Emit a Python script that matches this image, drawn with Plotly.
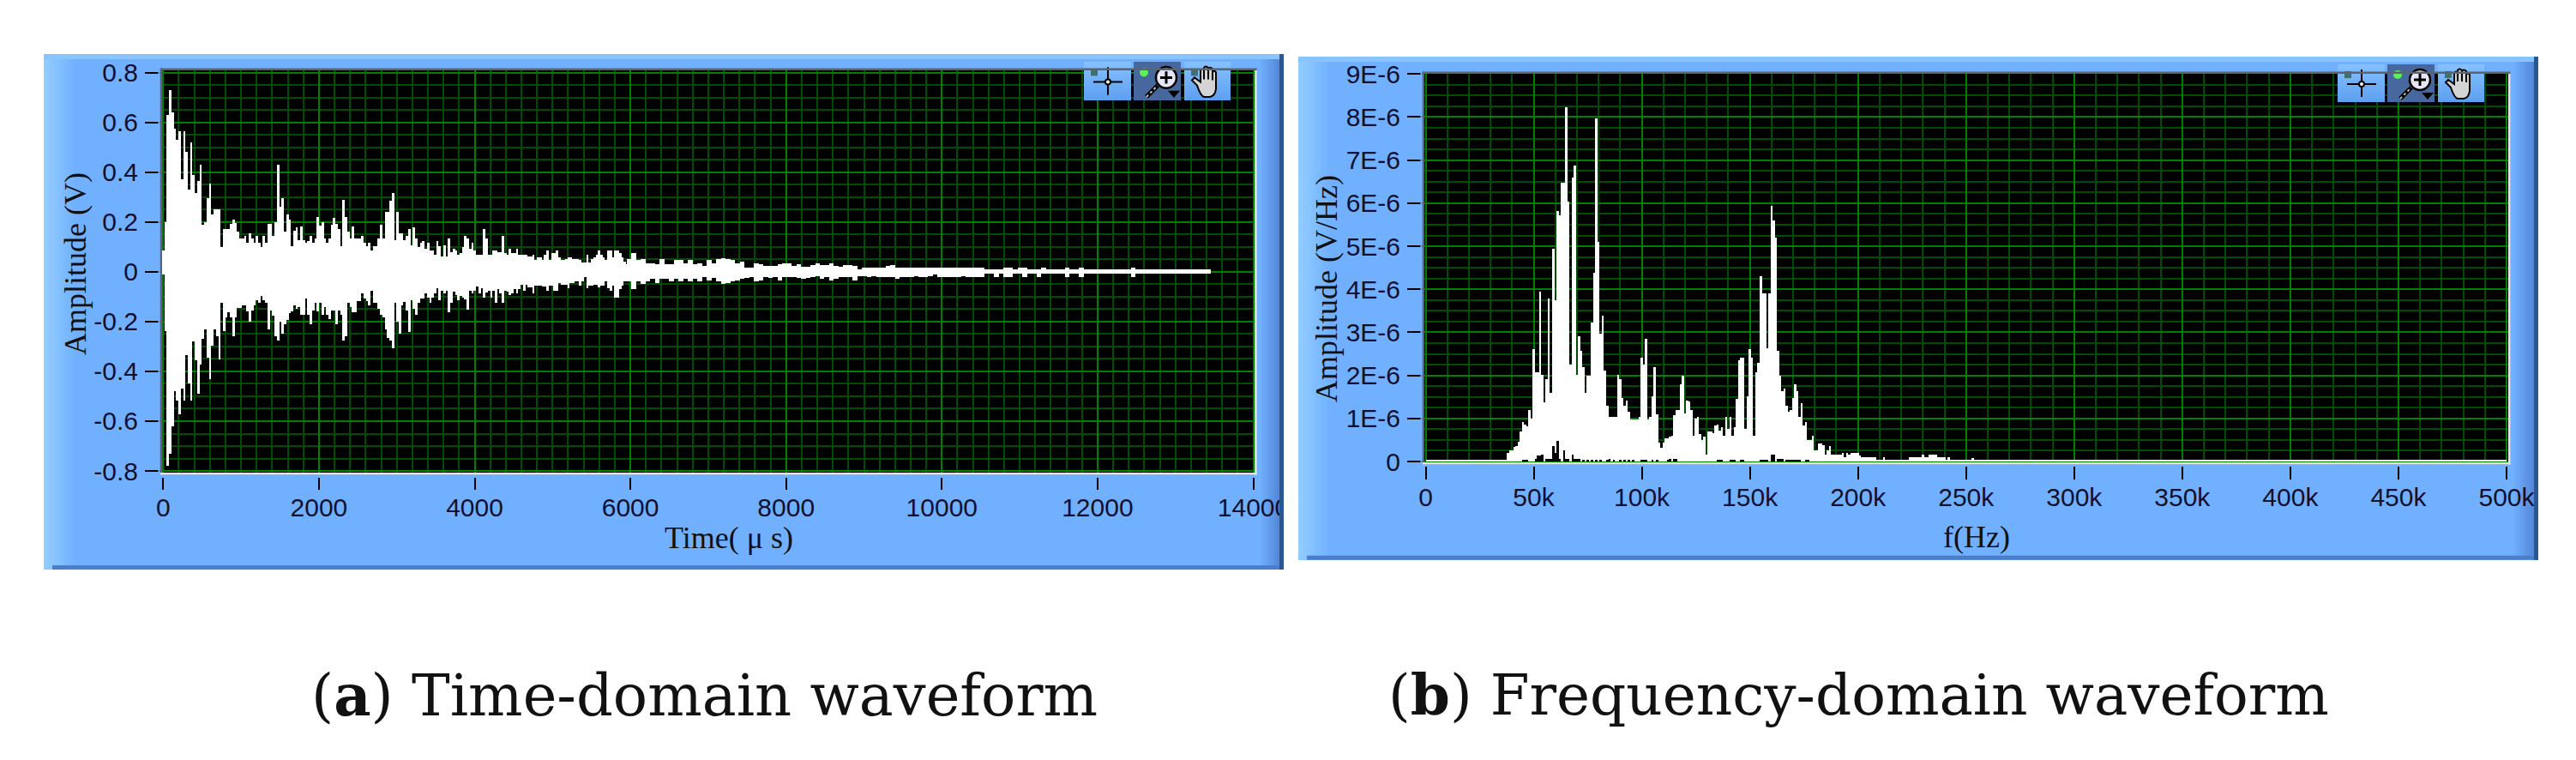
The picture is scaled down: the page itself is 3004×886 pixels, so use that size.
import base64
import numpy as np
import plotly.graph_objects as go

W, H = 3004, 886

# ---------- (a) time-domain envelope, volts ----------
upper_head = [.087,.20,.63,.73,.64,.575,.53,.565,.37,.565,
 .48,.33,.52,.39,.315,.365,.43,.19,.20,.297,
 .354,.23,.25,.25,.25,.098,.173,.173,.173,.193,
 .21,.196,.16,.135,.135,.144,.115,.153,.133,.115,
 .144,.115,.098,.144,.115,.193,.193,.144,.20,.43,
 .26,.297,.16,.23,.21,.104,.163,.18,.127,.182,
 .127,.115,.125,.144,.115,.133,.22,.184,.20,.133,
 .115,.133,.19,.218,.193,.173,.104,.287,.22,.16,
 .133,.182,.133,.133,.133,.144,.115,.104,.115,.087,.104]
lower_head = [-.01,-.24,-.78,-.73,-.62,-.48,-.516,-.573,-.47,-.516,
 -.336,-.45,-.516,-.28,-.355,-.49,-.373,-.27,-.23,-.344,
 -.43,-.298,-.23,-.258,-.353,-.126,-.238,-.183,-.164,-.183,
 -.258,-.183,-.145,-.145,-.135,-.135,-.16,-.2,-.155,-.135,
 -.114,-.123,-.097,-.114,-.126,-.23,-.155,-.177,-.258,-.277,
 -.2,-.25,-.212,-.192,-.166,-.158,-.135,-.149,-.143,-.172,
 -.172,-.106,-.172,-.21,-.155,-.126,-.16,-.126,-.172,-.143,
 -.172,-.191,-.155,-.155,-.212,-.155,-.172,-.277,-.258,-.126,
 -.143,-.162,-.162,-.117,-.117,-.088,-.106,-.117,-.134,-.077,-.126]
upper_mid = [.103,.135,.19,.135,.24,.24,.285,.316,.126,.24,
 .153,.153,.126,.143,.17,.105,.18,.132,.098,.115,
 .124,.092,.115,.086,.086,.069,.124,.103,.06,.105,
 .06,.132,.08,.094,.086,.067,.075,.098,.143,.135,
 .094,.115,.086,.067,.067,.067,.17,.132,.067,.067,
 .086,.086,.078,.078,.143,.075,.067,.094,.075,.075,
 .094,.067,.067,.067,.067,.063,.063,.067,.048,.057,
 .057,.048,.067,.086,.048,.075,.075,.086,.057,.048,
 .048,.052,.057,.057,.052,.052,.052,.046,.038,.038,
 .067,.038,.052,.057,.067,.084,.067,.057,.046,.084,
 .084,.057,.084,.084,.075,.057,.04,.032]
lower_mid = [-.124,-.149,-.172,-.184,-.23,-.266,-.275,-.308,-.126,-.2,
 -.25,-.134,-.12,-.155,-.241,-.115,-.149,-.172,-.126,-.109,
 -.109,-.086,-.103,-.124,-.103,-.086,-.065,-.115,-.078,-.086,
 -.078,-.161,-.126,-.08,-.094,-.115,-.098,-.103,-.112,-.153,
 -.078,-.086,-.078,-.06,-.086,-.065,-.103,-.083,-.077,-.103,
 -.077,-.123,-.069,-.086,-.124,-.075,-.08,-.094,-.086,-.069,
 -.086,-.069,-.052,-.075,-.052,-.063,-.063,-.086,-.055,-.055,
 -.055,-.06,-.06,-.077,-.057,-.057,-.077,-.077,-.044,-.052,
 -.052,-.052,-.067,-.046,-.046,-.037,-.037,-.057,-.037,-.02,
 -.067,-.057,-.057,-.052,-.052,-.063,-.057,-.057,-.04,-.067,
 -.075,-.057,-.103,-.103,-.069,-.057,-.037,-.037]
upper_tail = [.052,.075,.046,.052,.034,.034,.029,.052,.029,.029,.046,
 .046,.034,.046,.029,.034,.023,.046,.034,.052,.055,
 .052,.046,.034,.04,.017,.017,.034,.029,.025,.025,
 .023,.029,.034,.034,.023,.029,.021,.021,.026,.034,
 .026,.026,.034,.025,.021,.026,.026,.023,.009,.017,
 .017,.017,.017,.017,.023,.026,.017,.017,.017,.017,
 .017,.017,.017,.017,.017,.017,.017,.017,.017,.017,
 .017,.017,.017,.017,.017,.009,.009,.009,.009,.017,
 .017,.009,.017,.017,.009,.009,.009,.017,.009,.009,
 .009,.009,.017,.009,.009,.017,.009,.009,.009,.009,
 .009,.009,.009,.009,.009,.009,.017,.009,.009,.009,
 .009,.009,.009,.009,.009,.009,.009,.009,.009,.009,.009,.009,.009]
lower_tail = [-.04,-.069,-.04,-.048,-.04,-.029,-.046,-.029,-.029,-.038,-.029,
 -.038,-.029,-.038,-.029,-.038,-.023,-.034,-.026,-.04,-.048,
 -.046,-.04,-.034,-.029,-.025,-.023,-.038,-.034,-.02,-.025,
 -.02,-.034,-.021,-.023,-.021,-.026,-.029,-.026,-.023,-.017,
 -.029,-.023,-.034,-.029,-.021,-.021,-.023,-.034,-.017,-.017,
 -.021,-.017,-.021,-.021,-.021,-.023,-.029,-.02,-.02,-.02,
 -.017,-.02,-.02,-.017,-.011,-.021,-.021,-.021,-.021,-.021,
 -.017,-.021,-.021,-.021,-.02,-.009,-.009,-.02,-.009,-.02,
 -.02,-.009,-.009,-.02,-.009,-.009,-.02,-.009,-.009,-.009,
 -.009,-.009,-.02,-.009,-.009,-.02,-.009,-.009,-.009,-.009,
 -.009,-.009,-.009,-.009,-.009,-.009,-.02,-.009,-.009,-.009,
 -.009,-.009,-.009,-.009,-.009,-.009,-.009,-.009,-.009,-.009,-.009,-.009,-.009]
time_head = [30.1 * i for i in range(len(upper_head))]
time_mid = [2739 + 30.1 * i for i in range(len(upper_mid))]
time_tail = [5982.5 + 60.5 * i for i in range(len(upper_tail))]
width_a = [30.1] * (len(time_head) + len(time_mid)) + [60.5] * len(time_tail)

time_ticks = [0, 2000, 4000, 6000, 8000, 10000, 12000, 14000]
volt_ticks = [0.8, 0.6, 0.4, 0.2, 0, -0.2, -0.4, -0.6, -0.8]
volt_labels = ["0.8", "0.6", "0.4", "0.2", "0", "-0.2", "-0.4", "-0.6", "-0.8"]

# ---------- (b) spectrum: 1 kHz bins from 38 kHz, units of 1E-6 V/Hz ----------
freq_start = 38
spectrum = [.2,.25,.26,.33,.36,.46,.7,.91,.86,.81,
 1.19,.99,2.62,2.07,2.07,3.95,2.02,1.37,1.92,3.78,
 1.59,4.94,3.74,5.82,5.71,6.47,6.47,8.23,6.04,2.25,
 6.59,6.87,2.02,2.9,2.57,2.19,1.59,1.99,1.99,3.23,
 4.38,7.97,5.11,2.97,3.38,2.12,1.3,1.03,1.03,1.03,
 1.03,2.02,1.92,1.48,1.29,1.41,1.15,.97,.97,.97,
 .97,1.03,2.41,2.25,2.84,.97,1.03,1.52,2.19,1.09,
 .43,.31,.43,.53,.53,.57,.59,1.08,1.19,1.19,
 1.79,2.0,1.12,1.41,1.39,1.19,.6,.99,1.03,.64,
 .5,.57,.15,.69,.69,.66,.84,.86,.71,.79,
 .6,1.03,.76,1.03,.6,.79,1.46,2.35,2.41,2.41,
 .76,1.52,2.62,2.41,.6,2.07,2.29,4.31,3.9,3.9,
 2.63,3.9,5.93,5.6,5.21,2.57,1.99,1.64,1.69,1.29,
 1.15,1.19,1.47,1.79,1.64,1.03,1.36,.83,.91,.5,
 .5,.6,.26,.26,.42,.42,.38,.16,.26,.36,
 .15,.15,.15,.15,.15,.2,.1,.2,.15,.2,
 .2,.2,.2,.13,.1,.1,.1,.1,.1,.1,
 .1,.04,.04,.04,.1,.03,.03,.03,.03,.03,
 .03,.03,.03,.03,.03,.03,.1,.1,.1,.1,
 .1,.1,.15,.1,.1,.15,.15,.15,.15,.1,
 .1,.1,.1,.04,.1,.03,.03,.03,.03,.03,
 .03,.03,.03,.03,.03,.08]
freqs = [freq_start + i for i in range(len(spectrum))]

notch_freq = [45,46,47,51,52,53,54,56,57,58,59,60,61,62,64,65,66,68,69,70,71,73,75,77,79,81,84,85,87,90,92,94,96,
              100,101,102,105,107,112,113,115,116,135,136,137,141,142,143,146,147,155,156,157,158,160,161,163,164,165,
              167,168,169,170,171,172,173,176,177]
notch_height = [.03,.03,.03,.05,.13,.13,.15,.05,.05,.05,.36,.2,.47,.06,.26,.06,.06,.15,.05,.05,.05,.03,.04,.03,.03,.03,.03,.05,.03,.03,.03,.03,.03,
                .03,.03,.03,.03,.03,.04,.05,.06,.06,.03,.03,.03,.04,.04,.04,.04,.04,.04,.04,.04,.04,.15,.15,.06,.06,.06,
                .04,.04,.04,.04,.04,.04,.04,.04,.04]
floor_freq = [19, 376]
floor_width = [38, 248]
floor_level = [.04, .04]

freq_ticks = [0, 50, 100, 150, 200, 250, 300, 350, 400, 450, 500]
freq_labels = ["0", "50k", "100k", "150k", "200k", "250k", "300k", "350k", "400k", "450k", "500k"]
amp_ticks = [0, 1, 2, 3, 4, 5, 6, 7, 8, 9]
amp_labels = ["0", "1E-6", "2E-6", "3E-6", "4E-6", "5E-6", "6E-6", "7E-6", "8E-6", "9E-6"]

# ---------- styling ----------
MAJOR, MINOR = "#008000", "#004c00"
TICKTXT = "#101030"
PANEL = "#70b0ff"

def xp(v): return v / W
def yp(v): return 1 - v / H

def rect(x0, y0, x1, y1, color, layer="below"):
    return dict(type="rect", xref="paper", yref="paper", x0=xp(x0), x1=xp(x1), y0=yp(y0), y1=yp(y1),
                fillcolor=color, line=dict(width=0), layer=layer)

def mix(c1, c2, f):
    return "rgb(%d,%d,%d)" % tuple(round(a + (b - a) * f) for a, b in zip(c1, c2))

def panel(x0, y0, x1, y1, rx):
    out = [rect(x0, y0, x1, y1, PANEL)]
    n = 18
    for i in range(n):                       # light band on the left
        f = i / n
        out.append(rect(x0 + 2 * i, y0, x0 + 2 * i + 2, y1, mix((146, 205, 255), (112, 176, 255), f)))
    n = int((x1 - rx) / 3)
    for i in range(n):                       # darker band on the right
        f = i / n
        out.append(rect(rx + 3 * i, y0 + 3, rx + 3 * i + 3, y1 - 3, mix((112, 176, 255), (78, 125, 205), f)))
    out.append(rect(x0, y0, x1, y0 + 6, "#88c4ff"))
    out.append(rect(x0 + 10, y1 - 5, x1, y1, "#4a7ecb"))
    return out

def panel_edge(x0, y0, x1, y1):
    return [rect(x1 - 5, y0, x1, y1, "#2b5790", "above"),
            rect(x1, y0, x1 + 16, y1, "#ffffff", "above")]

A = dict(l=189, r=1463.3, t=82, b=553.7, x0=190.3, xs=.0908, y0=316.8, ys=290.3)
B = dict(l=1661, r=2925, t=86, b=541.7, x0=1662.5, xs=2.521, y0=538, ys=50.19)

shapes = panel(51, 63, 1497, 664, 1468) + panel(1514, 66, 2960, 652.7, 2929)
shapes += [rect(A["l"], A["t"], A["r"], A["b"], "#000000"), rect(B["l"], B["t"], B["r"], B["b"], "#000000")]
shapes += panel_edge(51, 63, 1497, 664) + panel_edge(1514, 66, 2960, 652.7)

for P, xgap in ((A, 3.3), (B, 2.4)):
    shapes += [
        rect(P["l"] - 2.5, P["t"] - 2.5, P["r"] + 2.4, P["t"], "#5c6470", "above"),
        rect(P["l"] - 2.5, P["t"] - 2.5, P["l"], P["b"], "#5c6470", "above"),
        rect(P["r"], P["t"], P["r"] + 2.4, P["b"], "#e4e4e4", "above"),
        rect(P["l"] - 2.5, P["b"] - 2.7, P["r"] + 2.4, P["b"], "#e4e4e4", "above"),
        rect(P["l"] - 2.5 - 2, P["t"] - 3, P["l"] - 2.5, P["b"] + 1, PANEL, "above"),
        rect(P["l"] - 5, P["b"], P["r"] + 6, P["b"] + xgap, PANEL, "above"),
    ]

fig = go.Figure()
fig.add_trace(go.Bar(
    x=time_head + time_mid + time_tail,
    base=lower_head + lower_mid + lower_tail,
    y=[u - l for u, l in zip(upper_head + upper_mid + upper_tail, lower_head + lower_mid + lower_tail)],
    width=width_a, marker=dict(color="#ffffff", line=dict(width=0)), xaxis="x", yaxis="y", showlegend=False))
fig.add_trace(go.Bar(x=freqs, y=spectrum, width=1.0, marker=dict(color="#ffffff", line=dict(width=0)),
                     xaxis="x2", yaxis="y2", showlegend=False))
fig.add_trace(go.Bar(x=floor_freq, y=floor_level, width=floor_width, marker=dict(color="#ffffff", line=dict(width=0)),
                     xaxis="x2", yaxis="y2", showlegend=False))
fig.add_trace(go.Bar(x=notch_freq, y=notch_height, width=1.0, marker=dict(color="#000000", line=dict(width=0)),
                     xaxis="x2", yaxis="y2", showlegend=False))

tickfont = dict(family="Liberation Sans", size=30, color=TICKTXT)
def xaxis(P, tv, tt, minor):
    return dict(domain=[xp(P["l"]), xp(P["r"])],
                range=[(P["l"] - P["x0"]) / P["xs"], (P["r"] - P["x0"]) / P["xs"]],
                tickmode="array", tickvals=tv, ticktext=tt, tickfont=tickfont, ticks="outside",
                ticklen=16, tickwidth=2, tickcolor="#000000", showgrid=True, gridcolor=MAJOR, gridwidth=2,
                minor=dict(dtick=minor, tick0=0, showgrid=True, gridcolor=MINOR, gridwidth=2, ticks=""),
                zeroline=False, showline=False, ticklabelstandoff=-5, automargin=False)
def yaxis(P, tv, tt, minor, anchor):
    return dict(domain=[yp(P["b"]), yp(P["t"])],
                range=[(P["y0"] - P["b"]) / P["ys"], (P["y0"] - P["t"]) / P["ys"]],
                anchor=anchor, tickmode="array", tickvals=tv, ticktext=tt, tickfont=tickfont, ticks="outside",
                ticklen=19, tickwidth=2, tickcolor="#000000", showgrid=True, gridcolor=MAJOR, gridwidth=2,
                minor=dict(dtick=minor, tick0=0, showgrid=True, gridcolor=MINOR, gridwidth=2, ticks=""),
                zeroline=False, showline=False, ticklabelstandoff=2, automargin=False)

def note(text, x, y, size, family="Liberation Serif", angle=0, color="#111111"):
    return dict(text=text, x=xp(x), y=yp(y), xref="paper", yref="paper", showarrow=False, textangle=angle,
                xanchor="center", yanchor="middle", font=dict(family=family, size=size, color=color))

annotations = [
    note("Amplitude (V)", 88, 308, 36, angle=-90),
    note("Amplitude (V/Hz)", 1547, 337, 36, angle=-90),
    note("Time( \u03bc s)", 850, 627, 36),
    note("f(Hz)", 2305, 626, 36),
    note("(<b>a</b>) Time-domain waveform", 821, 810, 67, family="DejaVu Serif", color="#111111"),
    note("(<b>b</b>) Frequency-domain waveform", 2167, 810, 66, family="DejaVu Serif", color="#111111"),
]

# ---------- graph palette toolbar, drawn as a small vector picture ----------
toolbar_svg = """<svg xmlns='http://www.w3.org/2000/svg' width='171' height='44' viewBox='0 0 171 44'>
<defs><linearGradient id='g' x1='0' y1='0' x2='0' y2='1'><stop offset='0' stop-color='#86c0ff'/><stop offset='1' stop-color='#5d9ff0'/></linearGradient></defs>
<rect x='0' y='0' width='55' height='44' fill='url(#g)'/>
<rect x='58' y='0' width='55' height='44' fill='#46689f'/>
<rect x='117' y='0' width='54' height='44' fill='url(#g)'/>
<rect x='8' y='8' width='8' height='8' fill='#3f6f6f'/>
<rect x='125' y='8' width='8' height='8' fill='#3f6f6f'/>
<circle cx='70' cy='12' r='5' fill='#5cf05c'/>
<path d='M28 6V38M11 23H45' stroke='#000' stroke-width='2' fill='none'/><circle cx='28' cy='23' r='3' fill='#fff' stroke='#000' stroke-width='2'/>
<path d='M73 40L86 27' stroke='#000' stroke-width='5'/><path d='M73 40L86 27' stroke='#bbb' stroke-width='2' stroke-dasharray='3 3'/>
<circle cx='96' cy='18' r='12' fill='#e6e6f6' stroke='#000' stroke-width='2.5'/>
<path d='M96 11V25M89 18H103' stroke='#000' stroke-width='3'/>
<path d='M98 33H112L105 41Z' fill='#000'/>
<path d='M132 27L126 21L129 18L136 23V10Q138 7 140 10V20V7Q142 4 145 7V20V8Q147 5 150 8V21V12Q152 9 154 12V31Q153 39 147 40H140Q136 39 132 27Z' fill='#d4d4d4' stroke='#000' stroke-width='2'/>
</svg>"""
toolbar_uri = "data:image/svg+xml;base64," + base64.b64encode(toolbar_svg.encode()).decode()
images = [
    dict(source=toolbar_uri, xref="paper", yref="paper", x=xp(1264), y=yp(72), sizex=171 / W, sizey=45 / H,
         xanchor="left", yanchor="top", sizing="stretch", layer="above"),
    dict(source=toolbar_uri, xref="paper", yref="paper", x=xp(2726), y=yp(75), sizex=171 / W, sizey=44 / H,
         xanchor="left", yanchor="top", sizing="stretch", layer="above"),
]

fig.update_layout(
    width=W, height=H, autosize=False, margin=dict(l=0, r=0, t=0, b=0, pad=0),
    paper_bgcolor="#ffffff", plot_bgcolor="#000000", barmode="overlay", bargap=0, showlegend=False,
    xaxis=xaxis(A, time_ticks, [str(v) for v in time_ticks], 200),
    yaxis=yaxis(A, volt_ticks, volt_labels, 0.05, "x"),
    xaxis2=dict(xaxis(B, freq_ticks, freq_labels, 10), anchor="y2"),
    yaxis2=yaxis(B, amp_ticks, amp_labels, 0.25, "x2"),
    shapes=shapes, annotations=annotations, images=images,
)

fig.write_html("out.html", config=dict(displayModeBar=False),
               post_script="document.body.style.margin='0';document.body.style.overflow='hidden';")
